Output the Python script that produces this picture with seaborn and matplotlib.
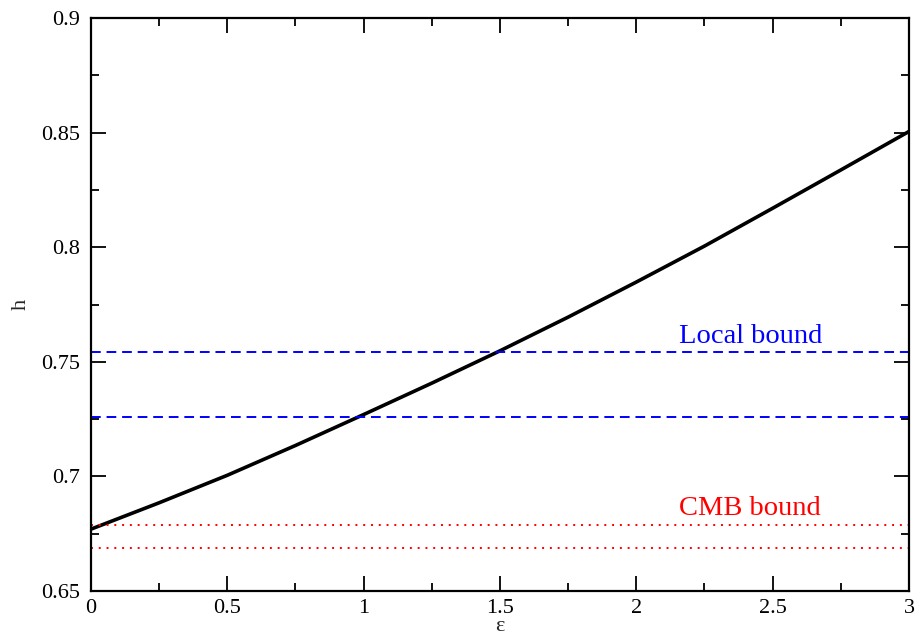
import matplotlib
matplotlib.use("Agg")
import matplotlib.pyplot as plt
import seaborn as sns
import pandas as pd
import numpy as np
from matplotlib.ticker import MultipleLocator

eps = [0.0, 0.25, 0.5, 0.75, 1.0, 1.25, 1.5, 1.75, 2.0, 2.25, 2.5, 2.75, 3.0]
h = [0.677, 0.6885, 0.7005, 0.7135, 0.7270, 0.7407, 0.7548, 0.7695, 0.7848, 0.8005, 0.8170, 0.8337, 0.8505]
local_bounds = [0.7543, 0.7258]
cmb_bounds = [0.6788, 0.6686]

sns.set_theme(style="ticks")
plt.rcParams['font.family'] = ['Liberation Serif', 'DejaVu Serif']

fig = plt.figure(figsize=(9.23, 6.39), dpi=100)
ax = fig.add_axes([0.0986, 0.0751, 0.8862, 0.8967])

df = pd.DataFrame({"eps": eps, "h": h})
sns.lineplot(data=df, x="eps", y="h", ax=ax, color="black", linewidth=2.6)

for b in local_bounds:
    ax.axhline(b, color="#0000ff", linestyle=(0, (5, 3)), linewidth=1.4)
for b in cmb_bounds:
    ax.axhline(b, color="#ff0000", linestyle=(0, (1, 3)), linewidth=1.4)

ax.text(2.42, 0.7612, "Local bound", color="#0000ff", fontsize=20.5, ha="center", va="center")
ax.text(2.415, 0.6862, "CMB bound", color="#ff0000", fontsize=20.5, ha="center", va="center")

ax.set_xlim(0, 3)
ax.set_ylim(0.65, 0.9)
ax.xaxis.set_major_locator(MultipleLocator(0.5))
ax.xaxis.set_minor_locator(MultipleLocator(0.25))
ax.yaxis.set_major_locator(MultipleLocator(0.05))
ax.yaxis.set_minor_locator(MultipleLocator(0.025))
ax.set_xticklabels([f"{v:g}" for v in ax.get_xticks()])
ax.set_yticklabels([f"{v:g}" for v in ax.get_yticks()])
ax.tick_params(which="both", direction="in", top=True, right=True, colors="black", labelsize=16, width=1.3)
ax.tick_params(axis="x", which="major", length=11, pad=6)
ax.tick_params(axis="y", which="major", length=11, pad=8)
ax.tick_params(which="minor", length=6)
for s in ax.spines.values():
    s.set_linewidth(1.6)
    s.set_color("black")

ax.set_xlabel("ε", fontsize=16, labelpad=-1)
ax.set_ylabel("h", fontsize=16, labelpad=7)

fig.savefig("out.png", dpi=100, facecolor="white")
